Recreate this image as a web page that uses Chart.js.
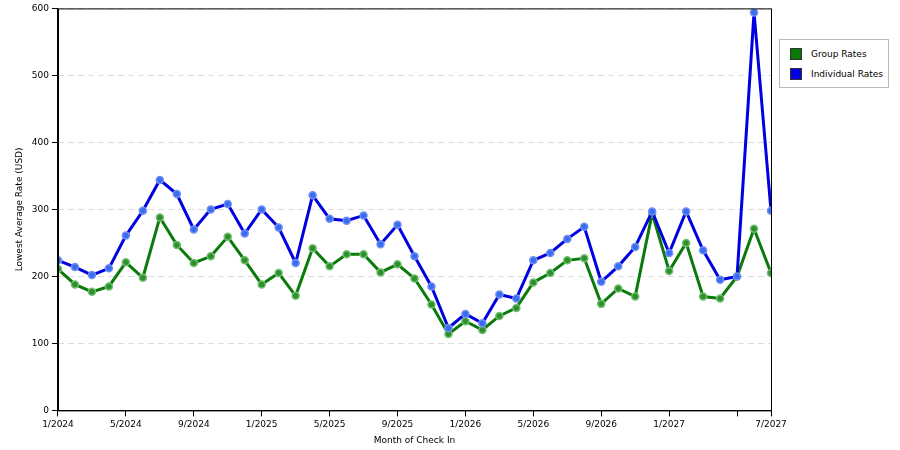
<!DOCTYPE html>
<html><head><meta charset="utf-8">
<script src="https://cdn.jsdelivr.net/npm/chart.js@4"></script>
<style>
body{margin:0;background:#fff;font-family:"DejaVu Sans",Arial,sans-serif;}
#wrap{position:relative;width:900px;height:450px;}
#legend{position:absolute;left:779px;top:39px;width:108px;height:47px;border:1px solid #bbb;font-size:9px;color:#000;background:#fff;}
.it{position:absolute;left:10px;display:flex;align-items:center;}
.sw{width:12px;height:12px;margin-right:9px;border:1px solid #333;box-sizing:border-box;}
</style></head>
<body><div id="wrap"><canvas id="c" width="900" height="450"></canvas>
<div id="legend">
<div class="it" style="top:8px"><div class="sw" style="background:#0a7a0a"></div>Group Rates</div>
<div class="it" style="top:28px"><div class="sw" style="background:#0000e0"></div>Individual Rates</div>
</div></div>
<script>
const months = [];
for (let y = 2024; y <= 2027; y++) for (let m = 1; m <= 12; m++) months.push(m + "/" + y);
const categories = months.slice(0, 43);
const tickIndexes = [0,4,8,12,16,20,24,28,32,36,40,42];
const hiddenTickLabels = [40];
const groupRates = [211,188,177,185,221,198,288,247,220,230,259,224,188,205,171,242,215,233,233,206,218,197,158,114,133,120,141,153,191,205,224,227,159,182,170,294,208,250,170,167,200,271,205];
const individualRates = [224,214,202,212,261,298,344,323,270,300,308,264,300,273,220,321,286,283,291,248,277,230,185,123,144,130,173,167,224,235,256,274,192,215,244,297,235,297,239,195,200,594,298];
const yTicks = [0,100,200,300,400,500,600];

const pts = a => a.map((v,i)=>({x:i,y:v}));
new Chart(document.getElementById('c'), {
  type:'line',
  data:{datasets:[
    {label:'Individual Rates',data:pts(individualRates),borderColor:'#0000e0',backgroundColor:'#3a6cf0',pointBorderColor:'#6f8ff5',borderWidth:3,pointRadius:3.5,pointBorderWidth:1.5,tension:0},
    {label:'Group Rates',data:pts(groupRates),borderColor:'#0a7a0a',backgroundColor:'#2e8f2e',pointBorderColor:'#6fbf6f',borderWidth:3,pointRadius:3.5,pointBorderWidth:1.5,tension:0}
  ]},
  options:{
    responsive:false,animation:false,
    layout:{padding:{top:0,right:129,left:10,bottom:0}},
    plugins:{legend:{display:false},tooltip:{enabled:false}},
    scales:{
      x:{type:'linear',min:0,max:42,
        afterBuildTicks:s=>{s.ticks=tickIndexes.map(v=>({value:v}));},
        ticks:{autoSkip:false,maxRotation:0,color:'#000',font:{size:9,family:'DejaVu Sans'},
          callback:v=>hiddenTickLabels.includes(v)?'':categories[v]},
        grid:{drawOnChartArea:false,drawTicks:true,tickLength:6,tickColor:'#000'},
        border:{color:'#000'},
        title:{display:true,text:'Month of Check In',color:'#000',font:{size:9,family:'DejaVu Sans'},padding:{top:2}}
      },
      y:{min:0,max:600,
        afterBuildTicks:s=>{s.ticks=yTicks.map(v=>({value:v}));},
        ticks:{color:'#000',font:{size:9,family:'DejaVu Sans'}},
        grid:{color:'#ddd',tickLength:6,tickColor:'#000',drawOnChartArea:true},
        border:{color:'#000',dash:[6,4]},
        title:{display:true,text:'Lowest Average Rate (USD)',color:'#000',font:{size:9,family:'DejaVu Sans'}}
      }
    }
  },
  plugins:[{id:'frame',afterDraw(c){const a=c.chartArea,x=c.ctx;x.save();x.strokeStyle='#000';x.lineWidth=1;x.setLineDash([]);x.strokeRect(a.left+.5,a.top+.5,a.right-a.left,a.bottom-a.top);x.beginPath();const s=c.scales.y;yTicks.forEach(v=>{const y=Math.round(s.getPixelForValue(v))+.5;x.moveTo(a.left-6,y);x.lineTo(a.left,y);});x.stroke();x.restore();}}]
});
</script></body></html>
